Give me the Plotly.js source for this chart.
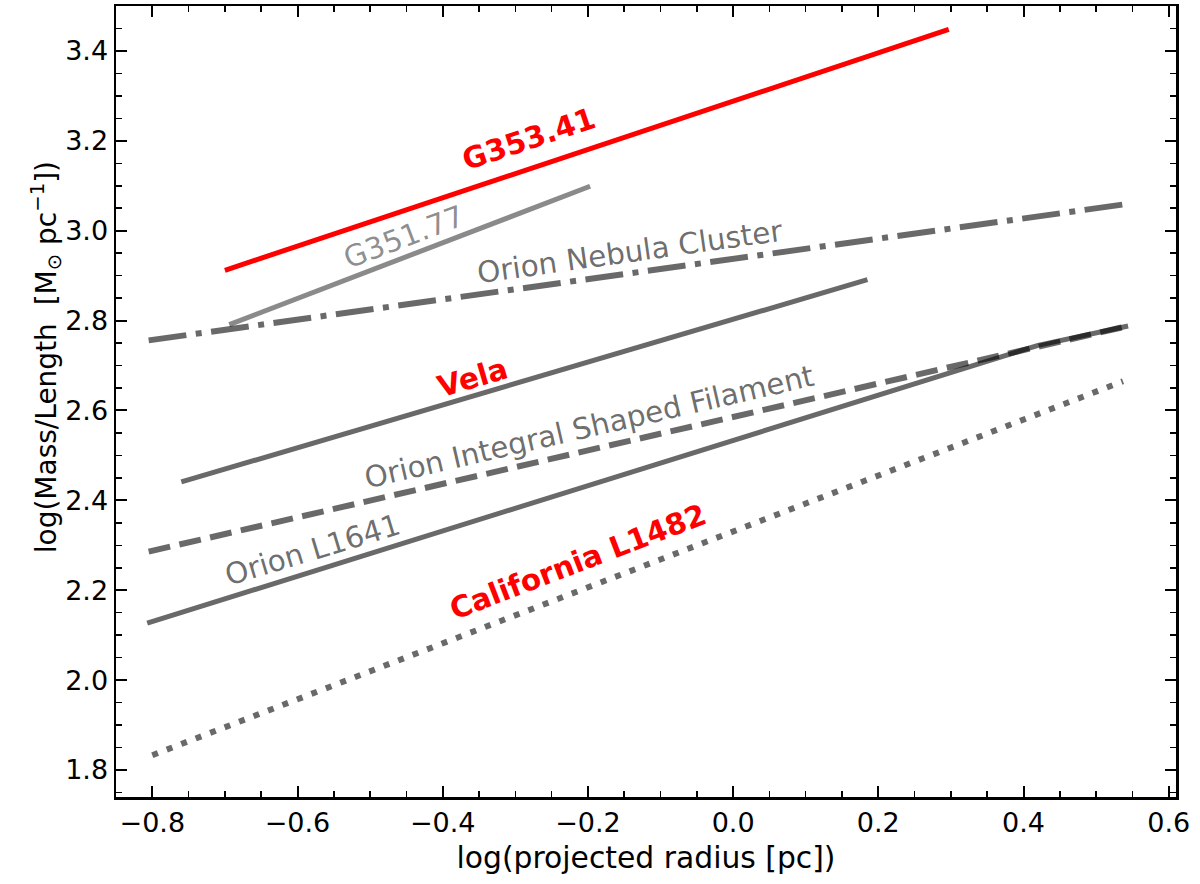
<!DOCTYPE html>
<html>
<head>
<meta charset="utf-8">
<script src="https://cdn.plot.ly/plotly-3.0.1.min.js"></script>
<style>html,body{margin:0;padding:0;background:#fff;}</style>
</head>
<body>
<div id="chart" style="width:1200px;height:884px;"></div>
<script>
// Mass per unit length versus projected radius (both log10) for filamentary clouds
const g353X = [-0.700, 0.297];
const g353Y = [2.912, 3.448];

const g351X = [-0.694, -0.197];
const g351Y = [2.791, 3.099];

const oncX = [-0.805, 0.536];
const oncY = [2.756, 3.058];

const velaX = [-0.760, 0.185];
const velaY = [2.441, 2.891];

const isfX = [-0.805, 0.544];
const isfY = [2.286, 2.788];

const l1641X = [-0.807, 0.420, 0.544];
const l1641Y = [2.127, 2.745, 2.788];

const califX = [-0.800, 0.537];
const califY = [1.833, 2.665];

const xTicks = [-0.8, -0.6, -0.4, -0.2, 0.0, 0.2, 0.4, 0.6];
const yTicks = [1.8, 2.0, 2.2, 2.4, 2.6, 2.8, 3.0, 3.2, 3.4];

const FONT = 'DejaVu Sans, Liberation Sans, sans-serif';
const GREY = 'rgba(0,0,0,0.59)';
const LIGHT = 'rgba(0,0,0,0.46)';
const RED = '#ff0000';

function line(x, y, color, width, dash) {
  return {
    x: x, y: y, type: 'scatter', mode: 'lines',
    line: {color: color, width: width, dash: dash || 'solid'},
    hoverinfo: 'skip', showlegend: false
  };
}

const traces = [
  line(g353X, g353Y, RED, 5),
  line(g351X, g351Y, LIGHT, 5),
  line(oncX, oncY, GREY, 6, '38px,9.5px,6px,9.5px'),
  line(velaX, velaY, GREY, 5),
  line(l1641X, l1641Y, GREY, 5),
  line(isfX, isfY, GREY, 6, '22px,9.5px'),
  line(califX, califY, GREY, 6, '6px,9.5px')
];

function label(text, x, y, angle, color, bold) {
  return {
    x: x, y: y, xref: 'x', yref: 'y', showarrow: false,
    text: bold ? '<b>' + text + '</b>' : text,
    textangle: angle,
    font: {family: FONT, size: 29.5, color: color}
  };
}

const annotations = [
  label('G353.41', -0.281, 3.203, -18.5, RED, true),
  label('G351.77', -0.453, 2.985, -20.7, LIGHT, false),
  label('Orion Nebula Cluster', -0.142, 2.952, -8, GREY, false),
  label('Vela', -0.359, 2.673, -16.4, RED, true),
  label('Orion Integral Shaped Filament', -0.198, 2.564, -13, GREY, false),
  label('Orion L1641', -0.579, 2.290, -16.8, GREY, false),
  label('California L1482', -0.214, 2.264, -21, RED, true),
  {
    xref: 'paper', yref: 'paper', x: -0.066, y: 0.556,
    xanchor: 'center', yanchor: 'middle', showarrow: false,
    text: 'log(Mass/Length\u00a0 [M<sub>\u2299</sub> pc<sup>\u22121</sup>])',
    textangle: -90,
    font: {family: FONT, size: 28, color: '#000'}
  }
];

const axisCommon = {
  showline: true, linecolor: '#000', linewidth: 2.5, mirror: 'allticks',
  ticks: 'inside', ticklen: 11, tickwidth: 2, tickcolor: '#000',
  showgrid: false, zeroline: false,
  tickfont: {family: FONT, size: 27, color: '#000'},
  tickformat: '.1f',
  minor: {ticks: 'inside', ticklen: 6, tickwidth: 1.5, tickcolor: '#000', dtick: 0.05, showgrid: false}
};

const layout = {
  width: 1200, height: 884,
  margin: {l: 116, r: 24, t: 6, b: 87},
  paper_bgcolor: '#fff', plot_bgcolor: '#fff',
  font: {family: FONT, color: '#000'},
  xaxis: Object.assign({}, axisCommon, {
    range: [-0.85, 0.61], tickmode: 'array', tickvals: xTicks,
    minor: Object.assign({}, axisCommon.minor, {tick0: -0.8}),
    title: {text: 'log(projected radius [pc])', font: {family: FONT, size: 29.8, color: '#000'}, standoff: 10}
  }),
  yaxis: Object.assign({}, axisCommon, {
    range: [1.74, 3.5], tickmode: 'array', tickvals: yTicks,
    minor: Object.assign({}, axisCommon.minor, {tick0: 1.8})
  }),
  annotations: annotations
};

Plotly.newPlot('chart', traces, layout, {staticPlot: true, displayModeBar: false});
</script>
</body>
</html>
